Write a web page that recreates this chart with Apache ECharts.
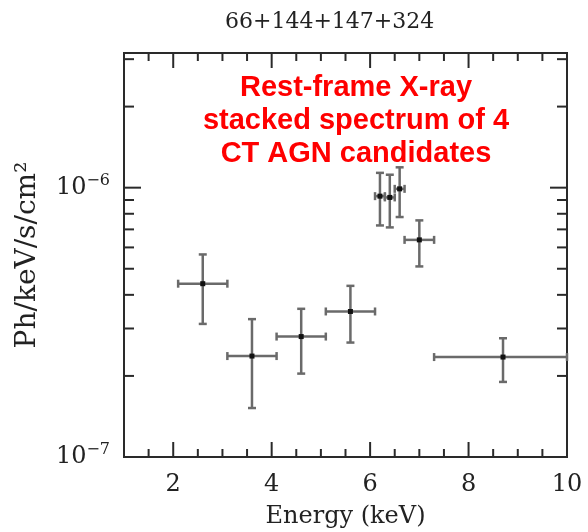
<!DOCTYPE html>
<html>
<head>
<meta charset="utf-8">
<script src="https://cdn.jsdelivr.net/npm/echarts@6/dist/echarts.min.js"></script>
<style>html,body{margin:0;padding:0;background:#fff;}#chart{width:588px;height:532px;}</style>
</head>
<body>
<div id="chart"></div>
<script>
// ---- data ----
const energy    = [2.6, 3.6, 4.6, 5.6, 6.2, 6.4, 6.6, 7.0, 8.7];
const energyLo  = [2.1, 3.1, 4.1, 5.1, 6.1, 6.3, 6.5, 6.7, 7.3];
const energyHi  = [3.1, 4.1, 5.1, 6.1, 6.3, 6.5, 6.7, 7.3, 10.0];
const flux      = [4.4e-7, 2.37e-7, 2.8e-7, 3.47e-7, 9.3e-7, 9.2e-7, 9.9e-7, 6.4e-7, 2.35e-7];
const fluxLo    = [3.12e-7, 1.52e-7, 2.04e-7, 2.66e-7, 7.24e-7, 7.12e-7, 7.78e-7, 5.1e-7, 1.9e-7];
const fluxHi    = [5.65e-7, 3.25e-7, 3.55e-7, 4.32e-7, 1.135e-6, 1.117e-6, 1.19e-6, 7.56e-7, 2.76e-7];

const xMajorTicks = [2, 4, 6, 8, 10];
const xMinorTicks = [1.5, 2.5, 3, 3.5, 4.5, 5, 5.5, 6.5, 7, 7.5, 8.5, 9, 9.5];
const yMajorTicks = [1e-7, 1e-6];
const yMinorTicks = [2e-7, 3e-7, 4e-7, 5e-7, 6e-7, 7e-7, 8e-7, 9e-7, 2e-6, 3e-6];
const yTickExponents = {'-7': '\u22127', '-6': '\u22126'};

const X_MIN = 1, X_MAX = 10;
const Y_MIN = 1e-7, Y_MAX = Math.pow(10, -5.5);

const titleText = '66+144+147+324';
const noteText = 'Rest-frame X-ray\nstacked spectrum of 4\nCT AGN candidates';
const xName = 'Energy (keV)';
const yName = 'Ph/keV/s/cm\u00B2';

// ---- build ----
const SERIF = 'DejaVu Serif';
const AXIS_COLOR = '#2a2a2a';
const BAR_COLOR = '#6a6a6a';

const errData = energy.map((e, i) => [e, flux[i], energyLo[i], energyHi[i], fluxLo[i], fluxHi[i]]);
const xTickData = xMajorTicks.map(v => [v, Y_MIN, 1]).concat(xMinorTicks.map(v => [v, Y_MIN, 0]));
const yTickData = yMajorTicks.map(v => [X_MIN, v, 1]).concat(yMinorTicks.map(v => [X_MIN, v, 0]));

function seg(p1, p2, color, w) {
  return {type: 'line', shape: {x1: p1[0], y1: p1[1], x2: p2[0], y2: p2[1]},
          style: {stroke: color, lineWidth: w}};
}

const chart = echarts.init(document.getElementById('chart'), null, {renderer: 'canvas'});
chart.setOption({
  animation: false,
  backgroundColor: '#fff',
  title: {
    text: titleText, left: 220, top: 6,
    textStyle: {fontFamily: SERIF, fontSize: 22, fontWeight: 'normal', color: '#222'}
  },
  grid: {left: 124, right: 21, top: 53, bottom: 75, show: true, outerBoundsMode: 'none',
         containLabel: false,
         borderColor: AXIS_COLOR, borderWidth: 2, backgroundColor: 'transparent'},
  xAxis: {
    type: 'value', min: X_MIN, max: X_MAX, interval: 1,
    name: xName, nameLocation: 'middle', nameGap: 48,
    nameTextStyle: {fontFamily: SERIF, fontSize: 24, color: '#222'},
    axisLine: {show: false}, axisTick: {show: false}, splitLine: {show: false},
    axisLabel: {fontFamily: SERIF, fontSize: 24, color: '#222', margin: 16,
      formatter: v => (v % 2 === 0 ? String(v) : '')}
  },
  yAxis: {
    type: 'log', logBase: 10, min: Y_MIN, max: Y_MAX,
    name: yName, nameLocation: 'middle', nameGap: 82, nameRotate: 90,
    nameTextStyle: {fontFamily: SERIF, fontSize: 28, color: '#222'},
    axisLine: {show: false}, axisTick: {show: false}, splitLine: {show: false},
    axisLabel: {color: '#222', margin: 14,
      formatter: v => {
        const l = Math.log10(v);
        const r = Math.round(l);
        const ex = yTickExponents[String(r)];
        return Math.abs(l - r) < 1e-6 && ex ? '{b|10}{s|' + ex + '}' : '';
      },
      rich: {
        b: {fontFamily: SERIF, fontSize: 24, color: '#222', lineHeight: 30},
        s: {fontFamily: SERIF, fontSize: 16, color: '#222', verticalAlign: 'top', lineHeight: 18}
      }}
  },
  graphic: [{
    type: 'text', x: 356, y: 71, z: 10,
    style: {text: noteText, fill: '#ff0000', font: 'bold 29px "Liberation Sans"',
            textAlign: 'center', textVerticalAlign: 'top', lineHeight: 33}
  }],
  series: [
    {
      type: 'custom', name: 'xticks', data: xTickData, silent: true,
      renderItem: (params, api) => {
        const v = api.value(0), major = api.value(2);
        const len = major ? 15 : 8;
        const b = api.coord([v, Y_MIN]), t = api.coord([v, Y_MAX]);
        return {type: 'group', children: [
          seg(b, [b[0], b[1] - len], AXIS_COLOR, 2),
          seg(t, [t[0], t[1] + len], AXIS_COLOR, 2)
        ]};
      }
    },
    {
      type: 'custom', name: 'yticks', data: yTickData, silent: true,
      renderItem: (params, api) => {
        const v = api.value(1), major = api.value(2);
        const len = major ? 17 : 10;
        const l = api.coord([X_MIN, v]), r = api.coord([X_MAX, v]);
        return {type: 'group', children: [
          seg(l, [l[0] + len, l[1]], AXIS_COLOR, 2),
          seg(r, [r[0] - len, r[1]], AXIS_COLOR, 2)
        ]};
      }
    },
    {
      type: 'custom', name: 'spectrum', data: errData, z: 5,
      renderItem: (params, api) => {
        const c = api.coord([api.value(0), api.value(1)]);
        const xl = api.coord([api.value(2), api.value(1)]);
        const xh = api.coord([api.value(3), api.value(1)]);
        const yl = api.coord([api.value(0), api.value(4)]);
        const yh = api.coord([api.value(0), api.value(5)]);
        const cap = 4;
        return {type: 'group', children: [
          seg(xl, xh, BAR_COLOR, 2.5),
          seg(yl, yh, BAR_COLOR, 2.5),
          seg([xl[0], xl[1] - cap], [xl[0], xl[1] + cap], BAR_COLOR, 2.5),
          seg([xh[0], xh[1] - cap], [xh[0], xh[1] + cap], BAR_COLOR, 2.5),
          seg([yl[0] - cap, yl[1]], [yl[0] + cap, yl[1]], BAR_COLOR, 2.5),
          seg([yh[0] - cap, yh[1]], [yh[0] + cap, yh[1]], BAR_COLOR, 2.5),
          {type: 'rect', shape: {x: c[0] - 2.5, y: c[1] - 2.5, width: 5, height: 5},
           style: {fill: '#111'}}
        ]};
      }
    }
  ]
});
</script>
</body>
</html>
